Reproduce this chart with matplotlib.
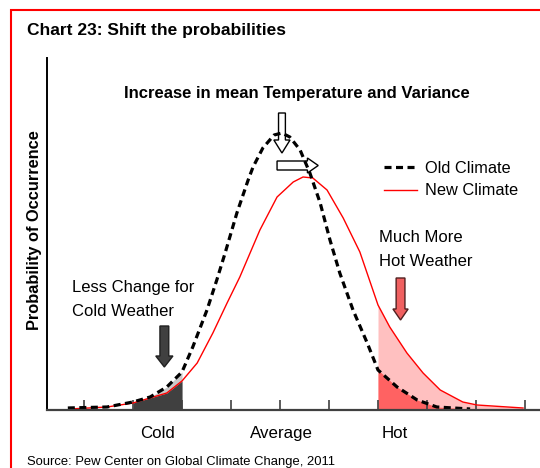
import matplotlib.pyplot as plt
import numpy as np
from matplotlib.patches import FancyArrow, Rectangle

plt.rcParams['font.family'] = ['Liberation Sans Narrow', 'Liberation Sans', 'DejaVu Sans']

# temperature (tick units) and probability values
old_x = [-0.33, 0.47, 1.0, 1.35, 1.69, 2.0, 2.22, 2.51, 2.71, 2.88, 3.12, 3.35, 3.45,
         3.65, 3.88, 4.04, 4.20, 4.41, 4.61, 4.82, 5.02, 5.22, 5.49, 5.78, 6.0, 6.39,
         6.80, 7.20, 7.88]
old_y = [0.02, 0.03, 0.08, 0.13, 0.23, 0.38, 0.63, 1.00, 1.30, 1.57, 1.97, 2.30, 2.43,
         2.62, 2.75, 2.77, 2.73, 2.60, 2.37, 2.07, 1.70, 1.37, 1.00, 0.67, 0.40, 0.23,
         0.10, 0.03, 0.01]
new_x = [-0.29, 0.47, 1.0, 1.69, 2.0, 2.31, 2.63, 2.92, 3.18, 3.59, 3.94, 4.27, 4.47,
         4.67, 4.96, 5.29, 5.63, 6.0, 6.24, 6.59, 6.92, 7.27, 7.73, 8.02, 8.96]
new_y = [0.01, 0.03, 0.07, 0.17, 0.29, 0.47, 0.77, 1.07, 1.33, 1.80, 2.13, 2.28, 2.33,
         2.32, 2.20, 1.92, 1.58, 1.05, 0.83, 0.57, 0.37, 0.20, 0.08, 0.05, 0.02]

cold_range = (1.0, 2.0)
hot_start = 6.0
category_labels = ['Cold', 'Average', 'Hot']
category_pos = [1.51, 4.03, 6.35]
series_labels = ['Old Climate', 'New Climate']

old_x, old_y = np.array(old_x), np.array(old_y)
new_x, new_y = np.array(new_x), np.array(new_y)

W, H = 540, 468
fig = plt.figure(figsize=(W / 100, H / 100), dpi=100)
ax = fig.add_axes([47 / W, (H - 410) / H, (W - 47) / W, 352 / H])

# shaded tails
m_old = (old_x >= cold_range[0]) & (old_x <= cold_range[1])
m_new = (new_x >= cold_range[0]) & (new_x <= cold_range[1])
ax.fill_between(old_x, old_y, where=m_old, color='#c8c8c8', lw=0)
ax.fill_between(new_x, new_y, where=m_new, color='#404040', lw=0)
ax.fill_between(new_x, new_y, where=new_x >= hot_start, color='#ffc0c0', lw=0)
ax.fill_between(old_x, old_y, where=old_x >= hot_start, color='#ff6262', lw=0)

ax.plot(new_x, new_y, color='#ff0000', lw=1.0, label=series_labels[1])
ax.plot(old_x, old_y, color='black', lw=2.3, dashes=(2.2, 1.4),
        dash_capstyle='butt', label=series_labels[0])

ax.set_xlim(-0.755, (W - 84) / 49)
ax.set_ylim(0, 3.52)
ax.set_xticks(range(10))
ax.tick_params(axis='x', direction='in', length=7, width=1.2, color='#404040',
               labelbottom=False)
ax.set_yticks([])
for s in ['top', 'right']:
    ax.spines[s].set_visible(False)
ax.spines['left'].set_linewidth(1.4)
ax.spines['bottom'].set_linewidth(1.6)
ax.spines['bottom'].set_color('#404040')

for lab, p in zip(category_labels, category_pos):
    ax.text(p, -0.28, lab, ha='center', va='baseline', fontsize=12.2)

h, l = ax.get_legend_handles_labels()
ax.legend(h[::-1], l[::-1], loc='upper left', bbox_to_anchor=(384 / W, 1 - 161 / H),
          bbox_transform=fig.transFigure, frameon=False, fontsize=11.8,
          handlelength=2.0, handletextpad=0.5, labelspacing=0.45,
          borderpad=0, borderaxespad=0)

# arrows
arrow_kw = dict(length_includes_head=True, lw=1.0)
ax.add_patch(FancyArrow(4.04, 2.97, 0, -0.40, width=0.14, head_width=0.33,
                        head_length=0.13, fc='white', ec='black', **arrow_kw))
ax.add_patch(FancyArrow(3.94, 2.445, 0.84, 0, width=0.09, head_width=0.15,
                        head_length=0.22, fc='white', ec='black', **arrow_kw))
ax.add_patch(FancyArrow(1.64, 0.84, 0, -0.41, width=0.18, head_width=0.35,
                        head_length=0.11, fc='#404040', ec='#202020', **arrow_kw))
ax.add_patch(FancyArrow(6.46, 1.32, 0, -0.42, width=0.18, head_width=0.31,
                        head_length=0.11, fc='#f06060', ec='#502020', **arrow_kw))

ax.text(4.35, 3.12, 'Increase in mean Temperature and Variance', ha='center',
        va='baseline', fontsize=12, fontweight='bold')
ax.text((379 - 84) / 49, (410 - 242) / 100, 'Much More', fontsize=12, va='baseline')
ax.text((379 - 84) / 49, (410 - 266) / 100, 'Hot Weather', fontsize=12, va='baseline')
ax.text((72 - 84) / 49, (410 - 292) / 100, 'Less Change for', fontsize=12, va='baseline')
ax.text((72 - 84) / 49, (410 - 316) / 100, 'Cold Weather', fontsize=12, va='baseline')

fig.text(27 / W, 1 - 34.5 / H, 'Chart 23: Shift the probabilities', fontsize=12.5,
         fontweight='bold', va='baseline')
fig.text(35 / W, 1 - 230 / H, 'Probability of Occurrence', rotation=90, ha='center',
         va='center', fontsize=11.8, fontweight='bold')
fig.text(27 / W, 1 - 465.5 / H, 'Source: Pew Center on Global Climate Change, 2011',
         fontsize=9.4, va='baseline')

fig.patches.append(Rectangle((11 / W, -0.1), 1.2, 1 - 9.7 / H + 0.1,
                             transform=fig.transFigure, fill=False, ec='#ff0000',
                             lw=1.5))

fig.savefig('out.png', dpi=100)
